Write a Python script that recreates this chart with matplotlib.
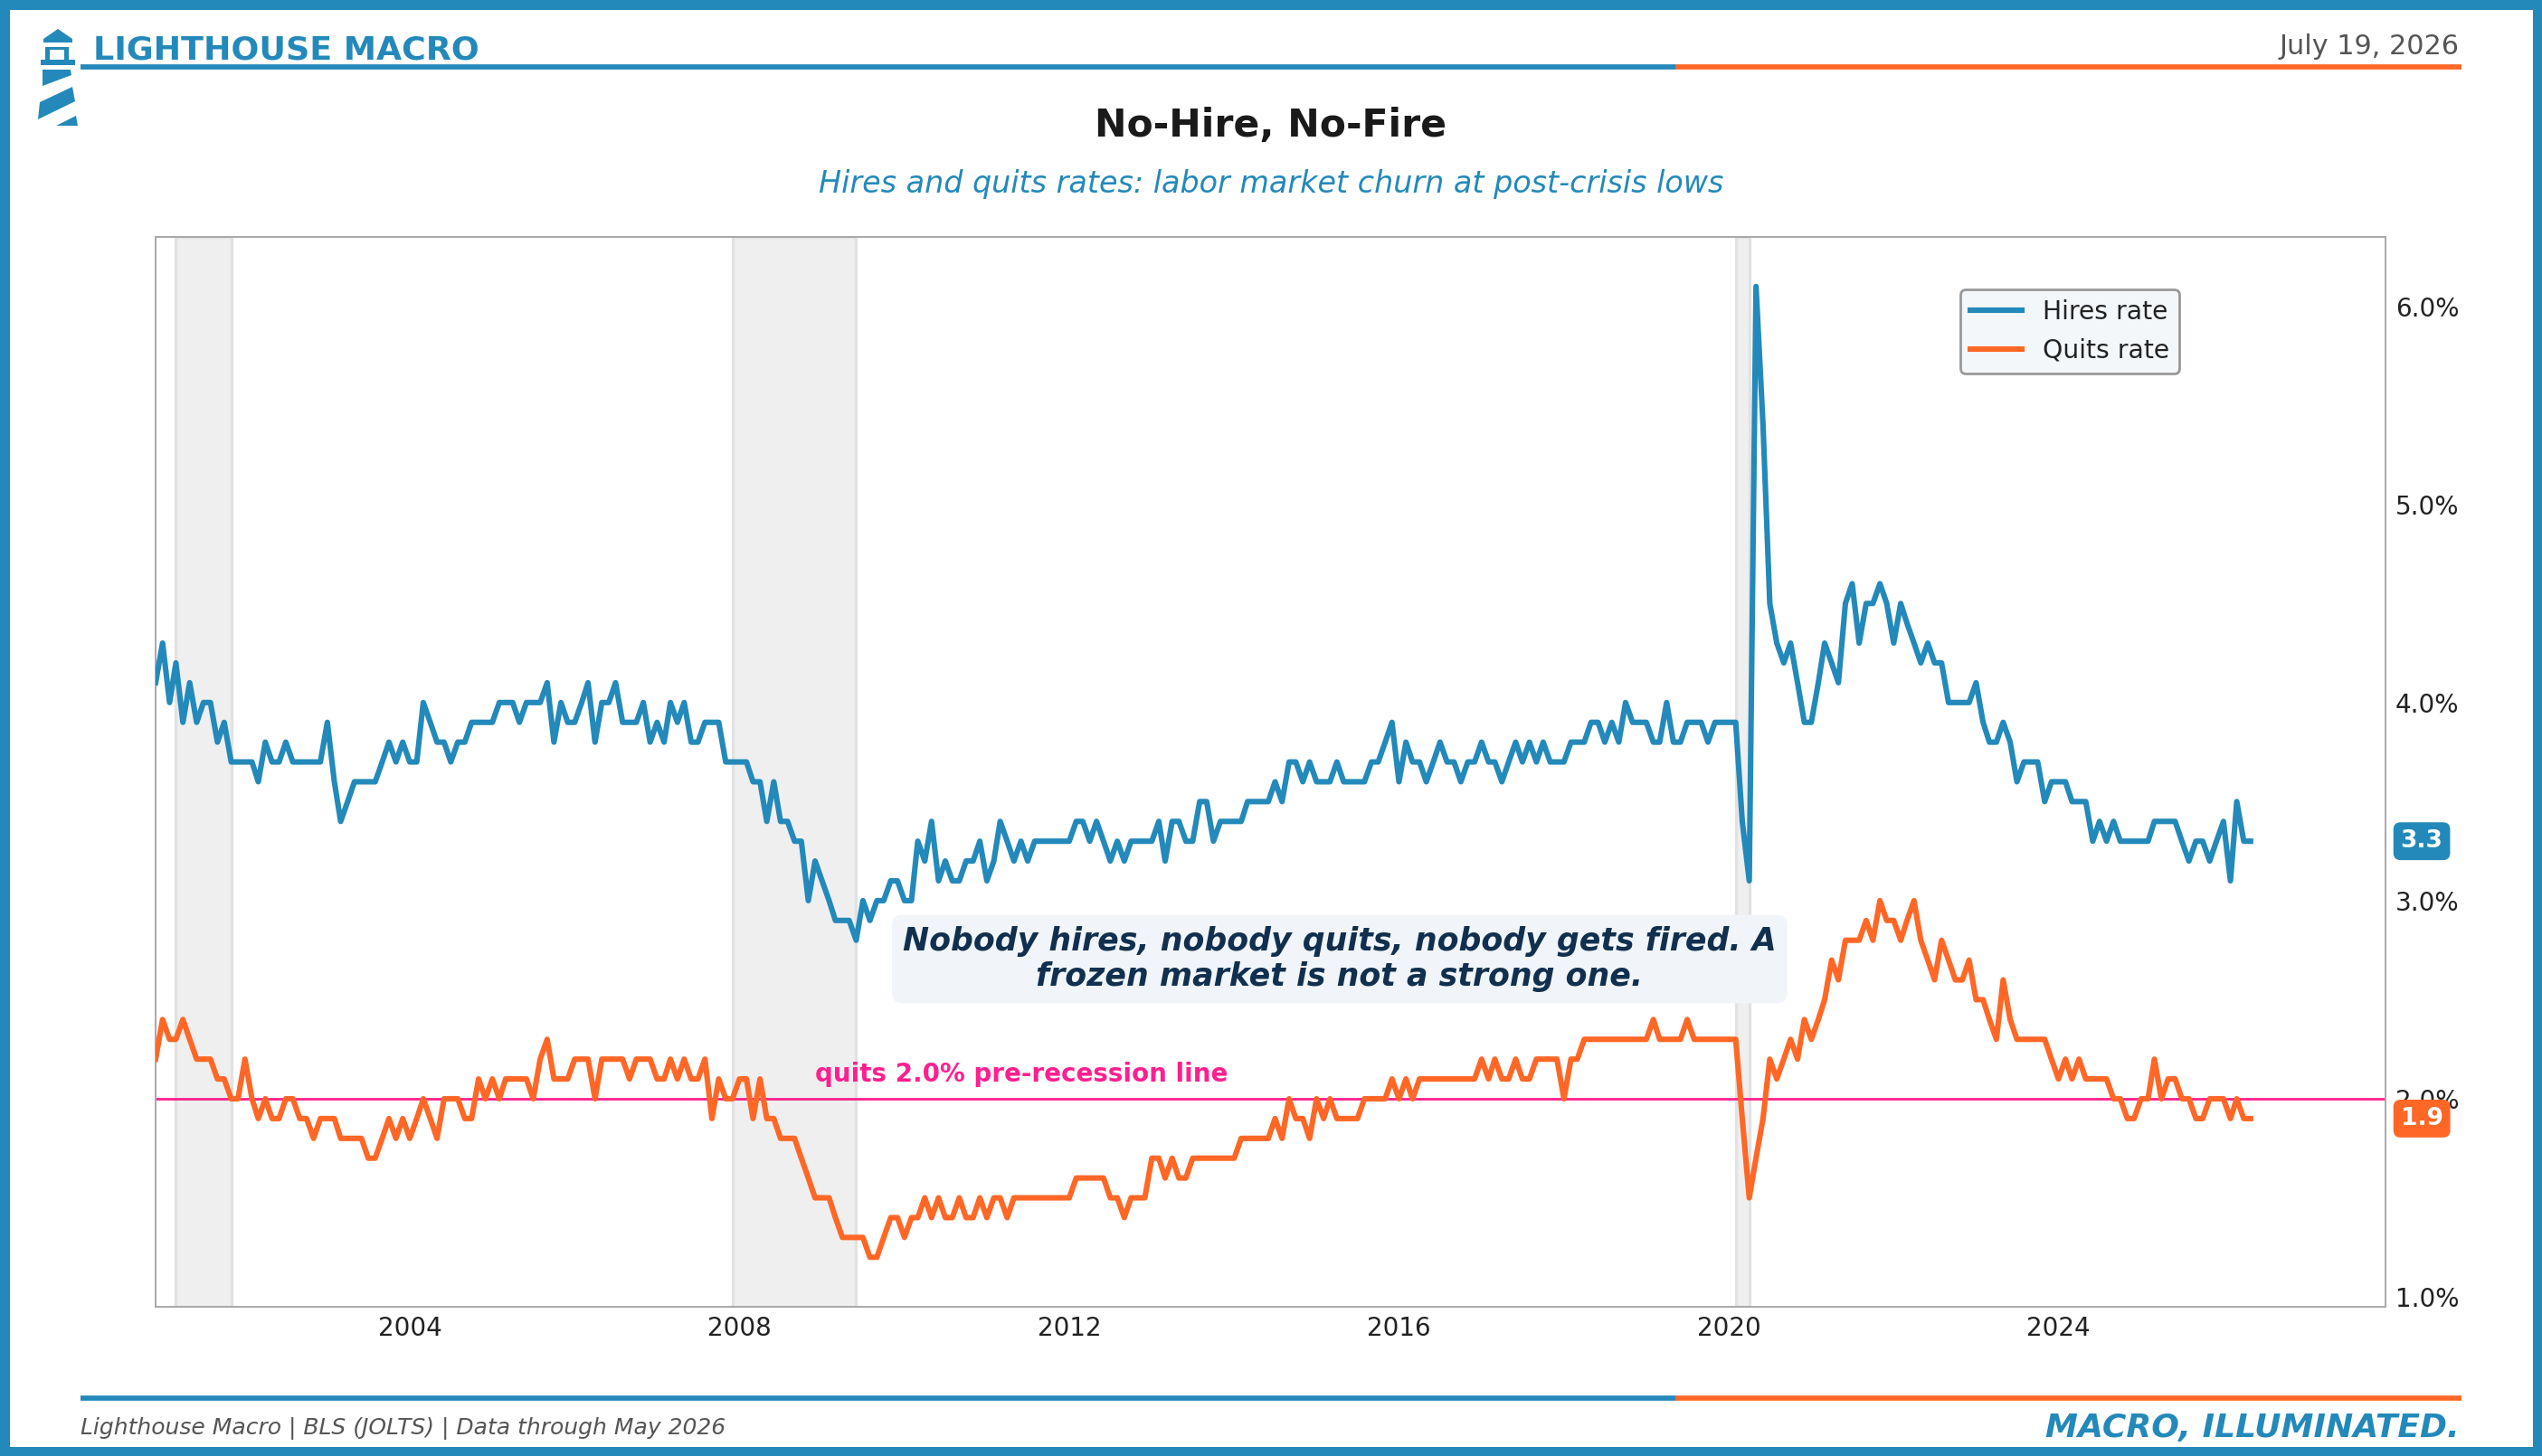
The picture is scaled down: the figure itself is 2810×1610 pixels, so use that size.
import matplotlib
matplotlib.use("Agg")
import matplotlib.pyplot as plt
import matplotlib.dates as mdates
import matplotlib.transforms as mtransforms
from matplotlib.patches import Rectangle, Polygon
from matplotlib.lines import Line2D
import pandas as pd

# ---------------- data ----------------
start_month = "2000-12-01"

hires_rate = [
    4.1,  # Dec 2000
    4.3, 4.0, 4.2, 3.9, 4.1, 3.9, 4.0, 4.0, 3.8, 3.9, 3.7, 3.7,  # 2001
    3.7, 3.7, 3.6, 3.8, 3.7, 3.7, 3.8, 3.7, 3.7, 3.7, 3.7, 3.7,  # 2002
    3.9, 3.6, 3.4, 3.5, 3.6, 3.6, 3.6, 3.6, 3.7, 3.8, 3.7, 3.8,  # 2003
    3.7, 3.7, 4.0, 3.9, 3.8, 3.8, 3.7, 3.8, 3.8, 3.9, 3.9, 3.9,  # 2004
    3.9, 4.0, 4.0, 4.0, 3.9, 4.0, 4.0, 4.0, 4.1, 3.8, 4.0, 3.9,  # 2005
    3.9, 4.0, 4.1, 3.8, 4.0, 4.0, 4.1, 3.9, 3.9, 3.9, 4.0, 3.8,  # 2006
    3.9, 3.8, 4.0, 3.9, 4.0, 3.8, 3.8, 3.9, 3.9, 3.9, 3.7, 3.7,  # 2007
    3.7, 3.7, 3.6, 3.6, 3.4, 3.6, 3.4, 3.4, 3.3, 3.3, 3.0, 3.2,  # 2008
    3.1, 3.0, 2.9, 2.9, 2.9, 2.8, 3.0, 2.9, 3.0, 3.0, 3.1, 3.1,  # 2009
    3.0, 3.0, 3.3, 3.2, 3.4, 3.1, 3.2, 3.1, 3.1, 3.2, 3.2, 3.3,  # 2010
    3.1, 3.2, 3.4, 3.3, 3.2, 3.3, 3.2, 3.3, 3.3, 3.3, 3.3, 3.3,  # 2011
    3.3, 3.4, 3.4, 3.3, 3.4, 3.3, 3.2, 3.3, 3.2, 3.3, 3.3, 3.3,  # 2012
    3.3, 3.4, 3.2, 3.4, 3.4, 3.3, 3.3, 3.5, 3.5, 3.3, 3.4, 3.4,  # 2013
    3.4, 3.4, 3.5, 3.5, 3.5, 3.5, 3.6, 3.5, 3.7, 3.7, 3.6, 3.7,  # 2014
    3.6, 3.6, 3.6, 3.7, 3.6, 3.6, 3.6, 3.6, 3.7, 3.7, 3.8, 3.9,  # 2015
    3.6, 3.8, 3.7, 3.7, 3.6, 3.7, 3.8, 3.7, 3.7, 3.6, 3.7, 3.7,  # 2016
    3.8, 3.7, 3.7, 3.6, 3.7, 3.8, 3.7, 3.8, 3.7, 3.8, 3.7, 3.7,  # 2017
    3.7, 3.8, 3.8, 3.8, 3.9, 3.9, 3.8, 3.9, 3.8, 4.0, 3.9, 3.9,  # 2018
    3.9, 3.8, 3.8, 4.0, 3.8, 3.8, 3.9, 3.9, 3.9, 3.8, 3.9, 3.9,  # 2019
    3.9, 3.9, 3.4, 3.1, 6.1, 5.4, 4.5, 4.3, 4.2, 4.3, 4.1, 3.9,  # 2020
    3.9, 4.1, 4.3, 4.2, 4.1, 4.5, 4.6, 4.3, 4.5, 4.5, 4.6, 4.5,  # 2021
    4.3, 4.5, 4.4, 4.3, 4.2, 4.3, 4.2, 4.2, 4.0, 4.0, 4.0, 4.0,  # 2022
    4.1, 3.9, 3.8, 3.8, 3.9, 3.8, 3.6, 3.7, 3.7, 3.7, 3.5, 3.6,  # 2023
    3.6, 3.6, 3.5, 3.5, 3.5, 3.3, 3.4, 3.3, 3.4, 3.3, 3.3, 3.3,  # 2024
    3.3, 3.3, 3.4, 3.4, 3.4, 3.4, 3.3, 3.2, 3.3, 3.3, 3.2, 3.3,  # 2025
    3.4, 3.1, 3.5, 3.3, 3.3,                                     # 2026
]

quits_rate = [
    2.2,  # Dec 2000
    2.4, 2.3, 2.3, 2.4, 2.3, 2.2, 2.2, 2.2, 2.1, 2.1, 2.0, 2.0,  # 2001
    2.2, 2.0, 1.9, 2.0, 1.9, 1.9, 2.0, 2.0, 1.9, 1.9, 1.8, 1.9,  # 2002
    1.9, 1.9, 1.8, 1.8, 1.8, 1.8, 1.7, 1.7, 1.8, 1.9, 1.8, 1.9,  # 2003
    1.8, 1.9, 2.0, 1.9, 1.8, 2.0, 2.0, 2.0, 1.9, 1.9, 2.1, 2.0,  # 2004
    2.1, 2.0, 2.1, 2.1, 2.1, 2.1, 2.0, 2.2, 2.3, 2.1, 2.1, 2.1,  # 2005
    2.2, 2.2, 2.2, 2.0, 2.2, 2.2, 2.2, 2.2, 2.1, 2.2, 2.2, 2.2,  # 2006
    2.1, 2.1, 2.2, 2.1, 2.2, 2.1, 2.1, 2.2, 1.9, 2.1, 2.0, 2.0,  # 2007
    2.1, 2.1, 1.9, 2.1, 1.9, 1.9, 1.8, 1.8, 1.8, 1.7, 1.6, 1.5,  # 2008
    1.5, 1.5, 1.4, 1.3, 1.3, 1.3, 1.3, 1.2, 1.2, 1.3, 1.4, 1.4,  # 2009
    1.3, 1.4, 1.4, 1.5, 1.4, 1.5, 1.4, 1.4, 1.5, 1.4, 1.4, 1.5,  # 2010
    1.4, 1.5, 1.5, 1.4, 1.5, 1.5, 1.5, 1.5, 1.5, 1.5, 1.5, 1.5,  # 2011
    1.5, 1.6, 1.6, 1.6, 1.6, 1.6, 1.5, 1.5, 1.4, 1.5, 1.5, 1.5,  # 2012
    1.7, 1.7, 1.6, 1.7, 1.6, 1.6, 1.7, 1.7, 1.7, 1.7, 1.7, 1.7,  # 2013
    1.7, 1.8, 1.8, 1.8, 1.8, 1.8, 1.9, 1.8, 2.0, 1.9, 1.9, 1.8,  # 2014
    2.0, 1.9, 2.0, 1.9, 1.9, 1.9, 1.9, 2.0, 2.0, 2.0, 2.0, 2.1,  # 2015
    2.0, 2.1, 2.0, 2.1, 2.1, 2.1, 2.1, 2.1, 2.1, 2.1, 2.1, 2.1,  # 2016
    2.2, 2.1, 2.2, 2.1, 2.1, 2.2, 2.1, 2.1, 2.2, 2.2, 2.2, 2.2,  # 2017
    2.0, 2.2, 2.2, 2.3, 2.3, 2.3, 2.3, 2.3, 2.3, 2.3, 2.3, 2.3,  # 2018
    2.3, 2.4, 2.3, 2.3, 2.3, 2.3, 2.4, 2.3, 2.3, 2.3, 2.3, 2.3,  # 2019
    2.3, 2.3, 1.9, 1.5, 1.7, 1.9, 2.2, 2.1, 2.2, 2.3, 2.2, 2.4,  # 2020
    2.3, 2.4, 2.5, 2.7, 2.6, 2.8, 2.8, 2.8, 2.9, 2.8, 3.0, 2.9,  # 2021
    2.9, 2.8, 2.9, 3.0, 2.8, 2.7, 2.6, 2.8, 2.7, 2.6, 2.6, 2.7,  # 2022
    2.5, 2.5, 2.4, 2.3, 2.6, 2.4, 2.3, 2.3, 2.3, 2.3, 2.3, 2.2,  # 2023
    2.1, 2.2, 2.1, 2.2, 2.1, 2.1, 2.1, 2.1, 2.0, 2.0, 1.9, 1.9,  # 2024
    2.0, 2.0, 2.2, 2.0, 2.1, 2.1, 2.0, 2.0, 1.9, 1.9, 2.0, 2.0,  # 2025
    2.0, 1.9, 2.0, 1.9, 1.9,                                     # 2026
]

recession_starts = ["2001-03-01", "2007-12-01", "2020-02-01"]
recession_ends = ["2001-11-01", "2009-06-01", "2020-04-01"]
quits_reference = 2.0
y_ticks = [1.0, 2.0, 3.0, 4.0, 5.0, 6.0]
x_tick_years = [2004, 2008, 2012, 2016, 2020, 2024]

series_labels = ["Hires rate", "Quits rate"]
title_text = "No-Hire, No-Fire"
subtitle_text = "Hires and quits rates: labor market churn at post-crisis lows"
annotation_text = "Nobody hires, nobody quits, nobody gets fired. A\nfrozen market is not a strong one."
reference_label = "quits 2.0% pre-recession line"
brand_text = "LIGHTHOUSE MACRO"
date_text = "July 19, 2026"
source_text = "Lighthouse Macro | BLS (JOLTS) | Data through May 2026"
tagline_text = "MACRO, ILLUMINATED."

# ---------------- style ----------------
BLUE = "#2389BA"
ORANGE = "#FF6726"
PINK = "#FF1F8E"
NAVY = "#11304F"
W, H = 2810, 1610

dates = pd.date_range(start_month, periods=len(hires_rate), freq="MS")

fig = plt.figure(figsize=(W / 200, H / 200), dpi=200)
fig.patch.set_facecolor("white")


def fp(x, y):
    return (x / W, 1 - y / H)


# outer frame
fig.patches.append(Rectangle((0, 0), 1, 1, transform=fig.transFigure, fill=False,
                             ec=BLUE, lw=21 * 72 / 200, zorder=10))

# lighthouse logo
logo_shapes = [
    [(64, 32), (80, 43), (80, 47), (48, 47), (48, 43)],
    [(50, 52), (76, 52), (76, 55), (50, 55)],
    [(50, 52), (55, 52), (55, 67), (50, 67)],
    [(71, 52), (76, 52), (76, 67), (71, 67)],
    [(45, 66), (83, 66), (83, 72), (45, 72)],
    [(47, 77), (78, 77), (79, 83), (47, 95)],
    [(44, 113), (80, 96), (83, 112), (42, 132)],
    [(62, 139), (84, 128), (86, 139)],
]
for shp in logo_shapes:
    fig.patches.append(Polygon([fp(x, y) for x, y in shp], closed=True,
                               transform=fig.transFigure, fc=BLUE, ec="none"))

# header / footer rules
x0, x1 = 89 / W, 2721 / W
xs = x0 + (x1 - x0) * 0.67
for ya in [1 - 74 / H, 1 - 1546 / H]:
    fig.add_artist(Line2D([x0, xs], [ya, ya], transform=fig.transFigure, color=BLUE, lw=2.05,
                          solid_capstyle="butt"))
    fig.add_artist(Line2D([xs, x1], [ya, ya], transform=fig.transFigure, color=ORANGE, lw=2.05,
                          solid_capstyle="butt"))

fig.text(103 / W, 1 - 55 / H, brand_text, color=BLUE, fontsize=13.1, fontweight="bold",
         ha="left", va="center")
fig.text(2719 / W, 1 - 51 / H, date_text, color="#555555", fontsize=10.9, ha="right", va="center")
fig.text(0.5, 1 - 139 / H, title_text, color="#1a1a1a", fontsize=15.3, fontweight="bold",
         ha="center", va="center")
fig.text(0.5, 1 - 203 / H, subtitle_text, color=BLUE, fontsize=12, fontstyle="italic",
         ha="center", va="center")
fig.text(89 / W, 1 - 1579 / H, source_text, color="#555555", fontsize=9, fontstyle="italic",
         ha="left", va="center")
fig.text(2719 / W, 1 - 1579 / H, tagline_text, color=BLUE, fontsize=13, fontweight="bold",
         fontstyle="italic", ha="right", va="center")

# ---------------- axes ----------------
ax = fig.add_axes([172 / W, 1 - 1445 / H, (2637 - 172) / W, (1445 - 262) / H])
ax.set_facecolor("white")

for s, e in zip(recession_starts, recession_ends):
    ax.axvspan(pd.Timestamp(s), pd.Timestamp(e), fc="#EFEFEF", ec="#E2E2E2", lw=1.2, zorder=0)

ax.axhline(quits_reference, color=PINK, lw=1.0, zorder=2)
ax.plot(dates, hires_rate, color=BLUE, lw=2.2, label=series_labels[0], zorder=3)
ax.plot(dates, quits_rate, color=ORANGE, lw=2.2, label=series_labels[1], zorder=3)

ax.set_xlim(dates[0], pd.Timestamp("2027-12-20"))
ax.set_ylim(min(quits_rate) - 0.25, max(hires_rate) + 0.25)

ax.yaxis.tick_right()
ax.set_yticks(y_ticks)
ax.set_yticklabels([f"{v:.1f}%" for v in y_ticks])
ax.set_xticks([pd.Timestamp(f"{y}-01-01") for y in x_tick_years])
ax.xaxis.set_major_formatter(mdates.DateFormatter("%Y"))
ax.tick_params(axis="both", length=0, labelsize=10, labelcolor="#222222", pad=4)
ax.tick_params(axis="x", pad=3.5)
for sp in ax.spines.values():
    sp.set_color("#A8A8A8")
    sp.set_linewidth(0.7)

leg = ax.legend(loc="upper right", bbox_to_anchor=(0.9075, 0.951), borderaxespad=0,
                fontsize=10.2, frameon=True, fancybox=True, framealpha=1,
                facecolor="#F4F7FA", edgecolor="#999999", handlelength=2.0)
leg.get_frame().set_linewidth(1.0)
for t in leg.get_texts():
    t.set_color("#222222")

# reference label
ax.annotate(reference_label, xy=(pd.Timestamp("2008-12-01"), quits_reference),
            xytext=(0, 4.5), textcoords="offset points", ha="left", va="bottom",
            color=PINK, fontsize=10, fontweight="bold")

# commentary box
ax.text(0.531, 0.325, annotation_text, transform=ax.transAxes, ha="center", va="center",
        multialignment="center", fontsize=12.5, fontweight="bold", fontstyle="italic",
        color=NAVY, zorder=5,
        bbox=dict(boxstyle="round,pad=0.35", fc="#F1F5F9", ec="none"))

# latest value tags
blend = mtransforms.blended_transform_factory(ax.transAxes, ax.transData)
for vals, col in [(hires_rate, BLUE), (quits_rate, ORANGE)]:
    ax.annotate(f"{vals[-1]:.1f}", xy=(1.0, vals[-1]), xycoords=blend,
                xytext=(6, 0), textcoords="offset points", ha="left", va="center",
                color="white", fontsize=9.5, fontweight="bold", annotation_clip=False,
                bbox=dict(boxstyle="round,pad=0.3", fc=col, ec="none"))

fig.savefig("out.png", dpi=200, facecolor="white")
